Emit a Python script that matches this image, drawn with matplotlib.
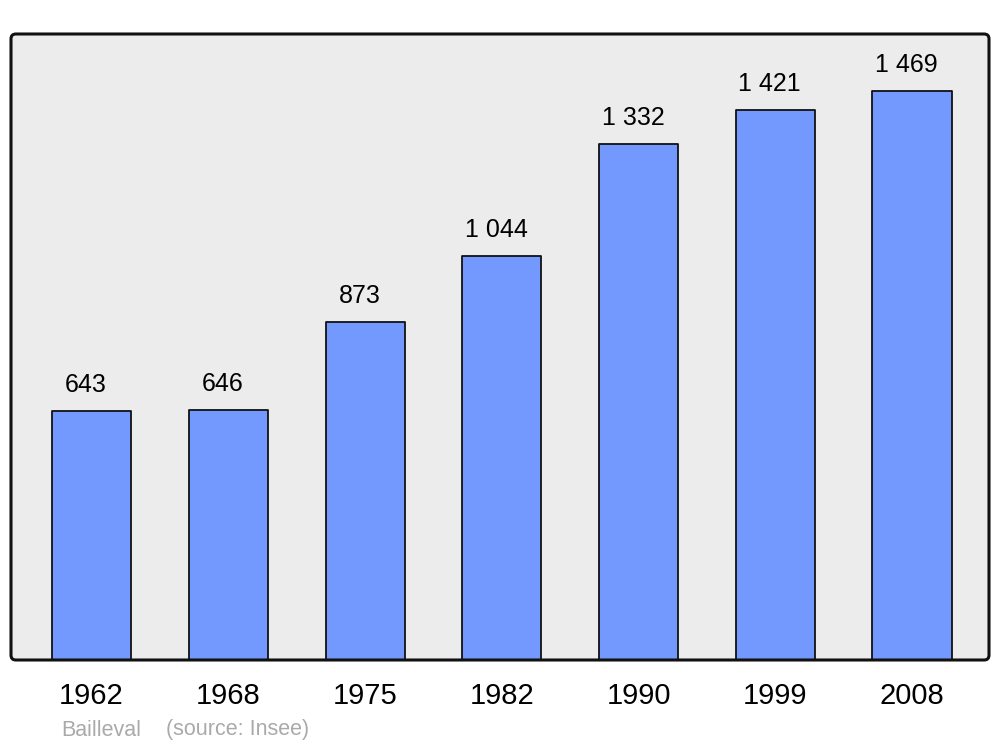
import matplotlib
matplotlib.use("Agg")
import matplotlib.pyplot as plt
from matplotlib.patches import FancyBboxPatch

years = ["1962", "1968", "1975", "1982", "1990", "1999", "2008"]
population = [643, 646, 873, 1044, 1332, 1421, 1469]
labels = ["643", "646", "873", "1 044", "1 332", "1 421", "1 469"]

plt.rcParams['font.family'] = ['Liberation Sans', 'DejaVu Sans']

fig = plt.figure(figsize=(10, 7.47), dpi=100)
ax = fig.add_axes([0.011, 87/747, 0.978, 626/747])
ax.set_facecolor('none')
for s in ax.spines.values():
    s.set_visible(False)

bg = FancyBboxPatch((0, 0), 1, 1, boxstyle="round,pad=0,rounding_size=0.005",
                    transform=ax.transAxes, facecolor='#ececec', edgecolor='none',
                    zorder=0, clip_on=False, mutation_aspect=978/626)
ax.add_patch(bg)
frame = FancyBboxPatch((0, 0), 1, 1, boxstyle="round,pad=0,rounding_size=0.005",
                       transform=ax.transAxes, facecolor='none', edgecolor='#111111',
                       linewidth=2.2, zorder=5, clip_on=False, mutation_aspect=978/626)
ax.add_patch(frame)

x = list(range(len(years)))
bars = ax.bar(x, population, width=0.578, color='#7399ff', edgecolor='#111111',
              linewidth=1.3, zorder=2)
for b in bars:
    b.set_joinstyle('round')

for xi, v, lab in zip(x, population, labels):
    ax.annotate(lab, (xi, v), xytext=(-4, 13.5), textcoords='offset points',
                ha='center', va='baseline', fontsize=18, color='black')

ax.set_xlim(-0.589, 6.563)
ax.set_ylim(0, 1616)
ax.set_yticks([])
ax.set_xticks(x)
ax.set_xticklabels(years, fontsize=21)
ax.tick_params(axis='x', length=0, pad=16, colors='black')

fig.text(0.061, 1 - 730/747, "Bailleval", fontsize=15.5, color='#aaaaaa', va='center', ha='left')
fig.text(0.166, 1 - 730/747, "(source: Insee)", fontsize=15.5, color='#aaaaaa', va='center', ha='left')

fig.savefig("out.png", dpi=100, facecolor='white')
